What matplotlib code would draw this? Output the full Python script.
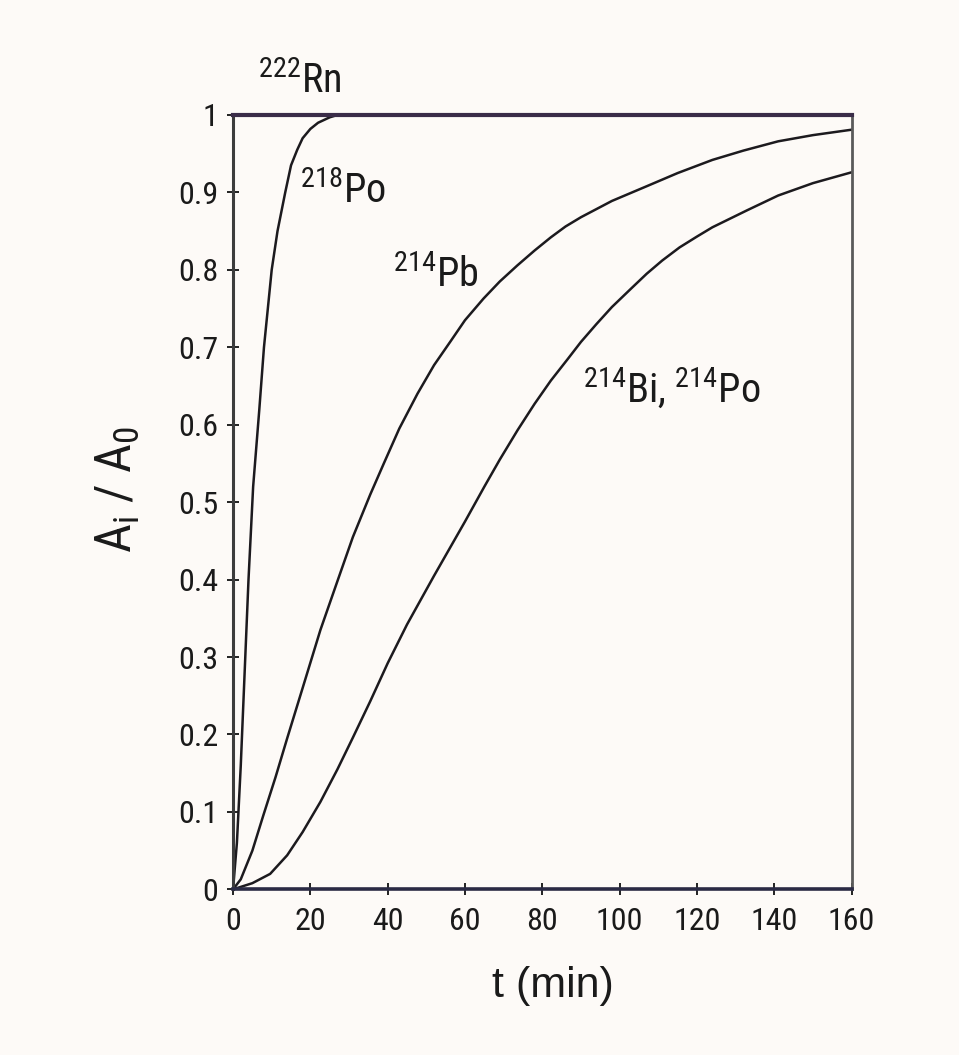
import matplotlib
matplotlib.use("Agg")
import matplotlib.pyplot as plt
from matplotlib import font_manager as fm

# Pick a narrow sans face when one is installed, otherwise fall back.
_available = {(f.name, f.stretch) for f in fm.fontManager.ttflist}
_names = {n for n, _ in _available}
narrow_family = None
narrow_stretch = 'normal'
for cand in ['Liberation Sans Narrow', 'Roboto Condensed', 'Open Sans Condensed',
             'Noto Sans Condensed', 'DejaVu Sans Condensed']:
    if cand in _names:
        narrow_family = cand
        break
if narrow_family is None:
    for n, s in _available:
        if n in ('DejaVu Sans', 'Noto Sans', 'Roboto', 'Open Sans') and s in ('condensed', 'semi-condensed', 'extra-condensed'):
            narrow_family, narrow_stretch = n, s
            break
if narrow_family is None:
    narrow_family = 'Liberation Sans'

plt.rcParams['font.family'] = [narrow_family, 'Liberation Sans', 'DejaVu Sans']
plt.rcParams['font.stretch'] = narrow_stretch
plt.rcParams['mathtext.fontset'] = 'custom'
plt.rcParams['mathtext.rm'] = f'{narrow_family}:stretch={narrow_stretch}'
plt.rcParams['mathtext.it'] = f'{narrow_family}:stretch={narrow_stretch}'
plt.rcParams['mathtext.bf'] = f'{narrow_family}:stretch={narrow_stretch}'

# Activity ratios A_i/A_0 of the radon daughters versus time (min)
t_rn = [0, 160]
a_rn = [1.0, 1.0]

t_po218 = [0, 1, 2, 3, 4, 5.2, 6.8, 8, 10, 11.5, 13.5, 15, 16.6, 18, 20, 22, 25, 27, 160]
a_po218 = [0, 0.06, 0.16, 0.28, 0.40, 0.52, 0.62, 0.70, 0.80, 0.85, 0.90, 0.935, 0.955,
           0.97, 0.982, 0.99, 0.997, 1.0, 1.0]

t_pb214 = [0, 2, 5, 7.8, 11, 14, 18, 22.6, 27, 31, 35.5, 39, 43, 47.7, 52, 56.3, 60,
           64.8, 69, 73.6, 78, 82.2, 86, 90, 98, 107, 115, 124, 132, 141, 150, 160]
a_pb214 = [0, 0.013, 0.05, 0.095, 0.145, 0.195, 0.26, 0.335, 0.398, 0.455, 0.51, 0.55,
           0.595, 0.64, 0.677, 0.708, 0.735, 0.763, 0.785, 0.806, 0.825, 0.842, 0.856,
           0.868, 0.889, 0.908, 0.925, 0.942, 0.954, 0.966, 0.974, 0.981]

t_bi214 = [0, 5, 9.6, 14, 18, 22.6, 27, 31, 35.5, 40, 45, 52, 56, 60, 65, 69, 73.6, 78,
           82.2, 86.6, 90, 94, 98, 103, 107, 111, 115.5, 120, 124, 133, 141, 150, 160]
a_bi214 = [0, 0.008, 0.02, 0.044, 0.074, 0.113, 0.155, 0.196, 0.243, 0.292, 0.342,
           0.405, 0.44, 0.475, 0.52, 0.555, 0.593, 0.627, 0.657, 0.685, 0.707, 0.73,
           0.752, 0.776, 0.795, 0.812, 0.829, 0.843, 0.855, 0.877, 0.896, 0.912, 0.926]

x_ticks = [0, 20, 40, 60, 80, 100, 120, 140, 160]
y_ticks = [0, 0.1, 0.2, 0.3, 0.4, 0.5, 0.6, 0.7, 0.8, 0.9, 1]
y_ticklabels = ['0', '0.1', '0.2', '0.3', '0.4', '0.5', '0.6', '0.7', '0.8', '0.9', '1']

bg = '#fdfaf7'
fig = plt.figure(figsize=(9.59, 10.55), dpi=100, facecolor=bg)
ax = fig.add_axes([0.243, 0.157, 0.645, 0.734], facecolor=bg)

curve_color = '#1c1a1e'
for tt, aa in [(t_po218, a_po218), (t_pb214, a_pb214), (t_bi214, a_bi214)]:
    ax.plot(tt, aa, color=curve_color, lw=1.8, solid_capstyle='round',
            solid_joinstyle='round')
ax.plot(t_rn, a_rn, color='#3a2c48', lw=3.0, clip_on=False, zorder=5)

ax.set_xlim(0, 160)
ax.set_ylim(0, 1)
ax.set_xticks(x_ticks)
ax.set_xticklabels([str(v) for v in x_ticks])
ax.set_yticks(y_ticks)
ax.set_yticklabels(y_ticklabels)

ax.spines['left'].set_color('#3c3c3c')
ax.spines['left'].set_linewidth(2.2)
ax.spines['right'].set_color('#5a5a5a')
ax.spines['right'].set_linewidth(2.0)
ax.spines['top'].set_color('#3a2c48')
ax.spines['top'].set_linewidth(2.0)
ax.spines['bottom'].set_color('#2a2a44')
ax.spines['bottom'].set_linewidth(2.6)

ax.tick_params(axis='x', direction='inout', length=9, width=1.4, colors='#222222',
               labelsize=23, pad=8, labelcolor='#1a1a1a')
ax.tick_params(axis='y', direction='inout', length=9, width=1.4, colors='#222222',
               labelsize=23, pad=6, labelcolor='#1a1a1a')

label_kw = dict(fontsize=29, color='#1a1a1a', ha='left', va='baseline', clip_on=False)
ax.text(6.5, 1.028, r'$^{222}$Rn', **label_kw)
ax.text(17.3, 0.886, r'$^{218}$Po', **label_kw)
ax.text(41.4, 0.778, r'$^{214}$Pb', **label_kw)
ax.text(90.5, 0.628, r'$^{214}$Bi, $^{214}$Po', **label_kw)

fig.text(0.576, 0.065, 't (min)', fontsize=31, color='#1a1a1a', ha='center', va='center',
         family=['Liberation Sans', 'DejaVu Sans'], stretch='normal')
fig.text(0.123, 0.536, r'A$_{\mathrm{i}}$ / A$_{0}$', fontsize=36, color='#1a1a1a',
         rotation=90, ha='center', va='center')

fig.savefig('out.png', dpi=100, facecolor=bg)
